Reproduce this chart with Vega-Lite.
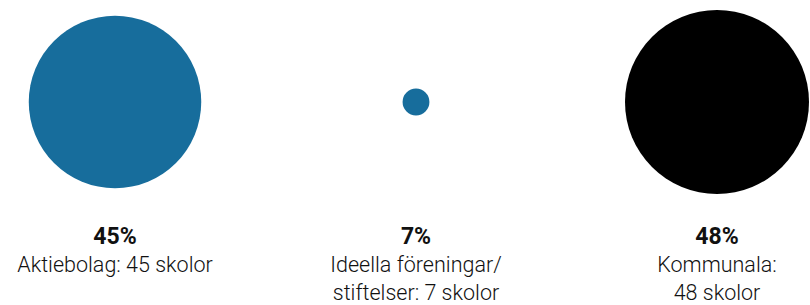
{
  "$schema": "https://vega.github.io/schema/vega-lite/v6.json",
  "width": 810,
  "height": 305,
  "autosize": {"type": "fit", "contains": "padding"},
  "padding": 0,
  "background": "white",
  "config": {"view": {"stroke": null}, "font": "Roboto"},
  "data": {
    "values": [
      {"type": "Aktiebolag", "value": 45, "pct": "45%", "label": ["Aktiebolag: 45 skolor"]},
      {"type": "Ideella", "value": 7, "pct": "7%", "label": ["Ideella föreningar/", "stiftelser: 7 skolor"]},
      {"type": "Kommunala", "value": 48, "pct": "48%", "label": ["Kommunala:", "48 skolor"]}
    ]
  },
  "encoding": {
    "x": {"field": "type", "type": "nominal", "sort": null, "axis": null,
          "scale": {"type": "point", "range": [115, 717], "padding": 0}}
  },
  "layer": [
    {
      "mark": {"type": "circle", "opacity": 1},
      "encoding": {
        "y": {"datum": 102, "type": "quantitative", "axis": null, "scale": {"domain": [0, 305], "reverse": true}},
        "size": {"field": "value", "type": "quantitative", "legend": null,
                 "scale": {"type": "pow", "exponent": 2, "domain": [0, 48], "range": [0, 33856]}},
        "color": {"field": "type", "type": "nominal", "legend": null,
                  "scale": {"domain": ["Aktiebolag", "Ideella", "Kommunala"], "range": ["#176d9c", "#176d9c", "#000000"]}}
      }
    },
    {
      "mark": {"type": "text", "fontSize": 23, "fontWeight": "bold", "baseline": "alphabetic", "color": "#111111"},
      "encoding": {
        "y": {"datum": 244, "type": "quantitative", "axis": null, "scale": {"domain": [0, 305], "reverse": true}},
        "text": {"field": "pct"}
      }
    },
    {
      "mark": {"type": "text", "fontSize": 21.5, "fontWeight": 300, "baseline": "alphabetic", "lineHeight": 28, "color": "#111111"},
      "encoding": {
        "y": {"datum": 272, "type": "quantitative", "axis": null, "scale": {"domain": [0, 305], "reverse": true}},
        "text": {"field": "label"}
      }
    }
  ]
}
